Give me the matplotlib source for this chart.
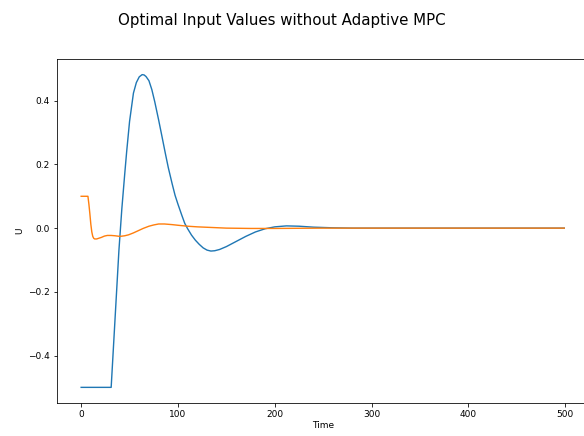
import numpy as np
import matplotlib
matplotlib.use('Agg')
from matplotlib import pyplot as plt

# input 1 (blue)
t_u1 = [0, 31, 35, 39, 42, 45, 47, 50, 54, 57, 60, 63, 65, 67, 70, 73, 76, 80, 83, 87, 90,
        94, 97, 100, 104, 107, 110, 114, 118, 122, 126, 130, 134, 138, 143, 150, 160, 170,
        180, 190, 200, 212, 225, 240, 260, 280, 300, 499]
u1 = [-0.5, -0.5, -0.285, -0.07, 0.06, 0.17, 0.24, 0.335, 0.424, 0.457, 0.475, 0.482, 0.481,
      0.476, 0.463, 0.435, 0.397, 0.34, 0.295, 0.234, 0.19, 0.139, 0.103, 0.075, 0.04, 0.015,
      -0.002, -0.022, -0.038, -0.051, -0.062, -0.069, -0.072, -0.071, -0.067, -0.058, -0.042,
      -0.026, -0.012, -0.002, 0.004, 0.007, 0.006, 0.003, 0.001, 0.0, 0.0, 0.0]

# input 2 (orange)
t_u2 = [0, 7, 8, 9, 10, 11, 12, 13, 14, 16, 18, 21, 24, 27, 31, 35, 40, 45, 49, 54, 59, 64,
        70, 75, 80, 86, 94, 100, 110, 120, 135, 150, 175, 200, 250, 300, 499]
u2 = [0.1, 0.1, 0.075, 0.045, 0.012, -0.012, -0.026, -0.032, -0.034, -0.034, -0.032, -0.029,
      -0.025, -0.023, -0.023, -0.024, -0.026, -0.024, -0.021, -0.015, -0.008, -0.001, 0.006,
      0.01, 0.013, 0.013, 0.011, 0.009, 0.006, 0.004, 0.002, 0.0, -0.001, -0.001, 0.0, 0.0, 0.0]

fig = plt.figure(figsize=(584/72, 436/72), dpi=72)
ax = fig.add_axes([0.0976, 0.0757, 0.91, 0.789])
ax.plot(t_u1, u1, lw=1.4)
ax.plot(t_u2, u2, lw=1.4)
ax.set_xticks([0, 100, 200, 300, 400, 500])
ax.set_yticks([-0.4, -0.2, 0.0, 0.2, 0.4])
ax.tick_params(labelsize=9)
ax.set_xlabel('Time', fontsize=9, labelpad=2)
ax.set_ylabel('U', fontsize=9)
fig.suptitle('Optimal Input Values without Adaptive MPC', fontsize=15, x=0.482, y=0.954, va='center')

fig.savefig('out.png', dpi=72)
